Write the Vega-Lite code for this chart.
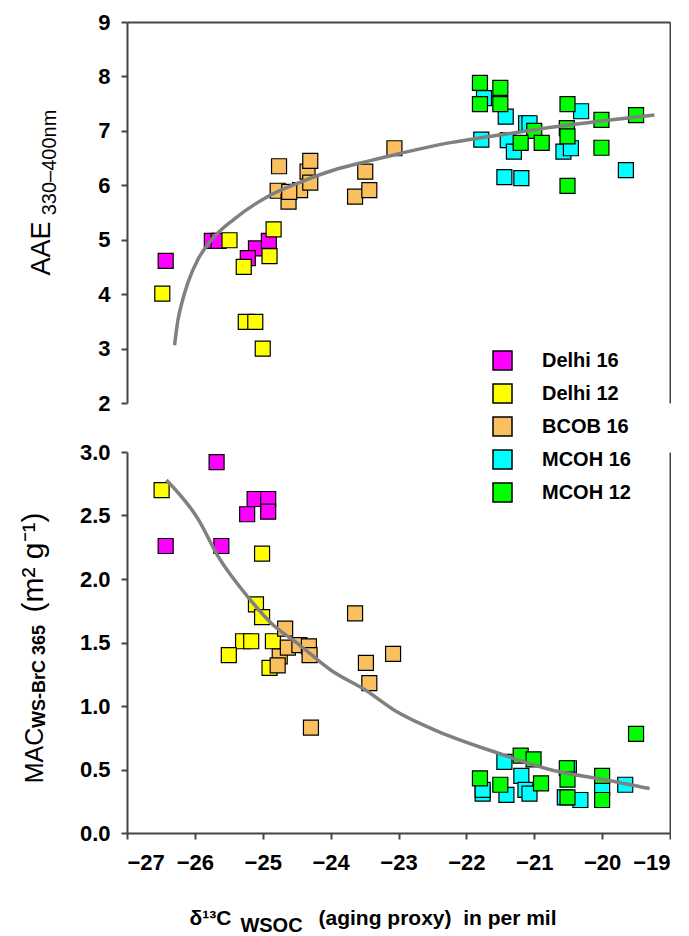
{
  "$schema": "https://vega.github.io/schema/vega-lite/v6.json",
  "background": "white",
  "padding": {"left": 17, "top": 11, "right": 0, "bottom": 0},
  "bounds": "flush",
  "spacing": 49,
  "config": {
    "font": "Liberation Sans",
    "view": {"stroke": null},
    "axis": {"grid": false, "domainColor": "#444444", "domainWidth": 2, "tickColor": "#444444", "tickWidth": 2, "tickSize": 6, "labelColor": "black", "labelFont": "Liberation Sans", "labelFontSize": 22, "labelFontWeight": "bold", "titleColor": "black", "titleFont": "Liberation Sans"}
  },
  "datasets": {
    "aae": [
      {"site": "Delhi 16", "x": -26.43, "y": 4.61},
      {"site": "Delhi 16", "x": -25.75, "y": 4.98},
      {"site": "Delhi 16", "x": -25.65, "y": 4.98},
      {"site": "Delhi 16", "x": -25.10, "y": 4.84},
      {"site": "Delhi 16", "x": -25.22, "y": 4.66},
      {"site": "Delhi 16", "x": -24.91, "y": 4.98},
      {"site": "Delhi 12", "x": -26.48, "y": 4.01},
      {"site": "Delhi 12", "x": -25.49, "y": 4.99},
      {"site": "Delhi 12", "x": -25.28, "y": 4.50},
      {"site": "Delhi 12", "x": -24.90, "y": 4.70},
      {"site": "Delhi 12", "x": -24.84, "y": 5.19},
      {"site": "Delhi 12", "x": -25.25, "y": 3.49},
      {"site": "Delhi 12", "x": -25.11, "y": 3.49},
      {"site": "Delhi 12", "x": -25.00, "y": 3.00},
      {"site": "BCOB 16", "x": -24.76, "y": 6.35},
      {"site": "BCOB 16", "x": -24.78, "y": 5.90},
      {"site": "BCOB 16", "x": -24.62, "y": 5.70},
      {"site": "BCOB 16", "x": -24.45, "y": 5.91},
      {"site": "BCOB 16", "x": -24.61, "y": 5.88},
      {"site": "BCOB 16", "x": -24.34, "y": 6.25},
      {"site": "BCOB 16", "x": -24.30, "y": 6.45},
      {"site": "BCOB 16", "x": -24.30, "y": 6.05},
      {"site": "BCOB 16", "x": -23.64, "y": 5.79},
      {"site": "BCOB 16", "x": -23.49, "y": 6.25},
      {"site": "BCOB 16", "x": -23.43, "y": 5.91},
      {"site": "BCOB 16", "x": -23.06, "y": 6.68},
      {"site": "MCOH 16", "x": -21.74, "y": 7.60},
      {"site": "MCOH 16", "x": -21.42, "y": 7.26},
      {"site": "MCOH 16", "x": -20.31, "y": 7.36},
      {"site": "MCOH 16", "x": -21.12, "y": 7.14},
      {"site": "MCOH 16", "x": -21.07, "y": 7.14},
      {"site": "MCOH 16", "x": -21.78, "y": 6.84},
      {"site": "MCOH 16", "x": -21.39, "y": 6.83},
      {"site": "MCOH 16", "x": -21.30, "y": 6.62},
      {"site": "MCOH 16", "x": -20.57, "y": 6.62},
      {"site": "MCOH 16", "x": -20.46, "y": 6.68},
      {"site": "MCOH 16", "x": -21.44, "y": 6.15},
      {"site": "MCOH 16", "x": -21.19, "y": 6.13},
      {"site": "MCOH 16", "x": -19.65, "y": 6.28},
      {"site": "MCOH 12", "x": -21.80, "y": 7.88},
      {"site": "MCOH 12", "x": -21.50, "y": 7.79},
      {"site": "MCOH 12", "x": -21.80, "y": 7.49},
      {"site": "MCOH 12", "x": -21.50, "y": 7.49},
      {"site": "MCOH 12", "x": -20.51, "y": 7.49},
      {"site": "MCOH 12", "x": -20.01, "y": 7.20},
      {"site": "MCOH 12", "x": -19.50, "y": 7.29},
      {"site": "MCOH 12", "x": -21.00, "y": 7.00},
      {"site": "MCOH 12", "x": -21.20, "y": 6.78},
      {"site": "MCOH 12", "x": -20.89, "y": 6.78},
      {"site": "MCOH 12", "x": -20.52, "y": 7.05},
      {"site": "MCOH 12", "x": -20.51, "y": 6.90},
      {"site": "MCOH 12", "x": -20.01, "y": 6.69},
      {"site": "MCOH 12", "x": -20.51, "y": 5.99}
    ],
    "aaeFit": [
      {"x": -26.30, "y": 3.06},
      {"x": -26.25, "y": 3.52},
      {"x": -26.20, "y": 3.80},
      {"x": -26.10, "y": 4.22},
      {"x": -25.95, "y": 4.65},
      {"x": -25.76, "y": 4.99},
      {"x": -25.42, "y": 5.38},
      {"x": -24.93, "y": 5.79},
      {"x": -24.44, "y": 6.06},
      {"x": -23.95, "y": 6.28},
      {"x": -23.46, "y": 6.44},
      {"x": -22.96, "y": 6.59},
      {"x": -22.30, "y": 6.77},
      {"x": -21.64, "y": 6.90},
      {"x": -20.66, "y": 7.08},
      {"x": -19.95, "y": 7.19},
      {"x": -19.23, "y": 7.29}
    ],
    "mac": [
      {"site": "Delhi 16", "x": -25.68, "y": 2.92},
      {"site": "Delhi 16", "x": -25.12, "y": 2.63},
      {"site": "Delhi 16", "x": -24.92, "y": 2.63},
      {"site": "Delhi 16", "x": -24.92, "y": 2.53},
      {"site": "Delhi 16", "x": -25.23, "y": 2.51},
      {"site": "Delhi 16", "x": -26.43, "y": 2.26},
      {"site": "Delhi 16", "x": -25.61, "y": 2.26},
      {"site": "Delhi 12", "x": -26.49, "y": 2.70},
      {"site": "Delhi 12", "x": -25.01, "y": 2.20},
      {"site": "Delhi 12", "x": -25.10, "y": 1.80},
      {"site": "Delhi 12", "x": -25.01, "y": 1.70},
      {"site": "Delhi 12", "x": -25.29, "y": 1.51},
      {"site": "Delhi 12", "x": -25.17, "y": 1.51},
      {"site": "Delhi 12", "x": -25.50, "y": 1.40},
      {"site": "Delhi 12", "x": -24.85, "y": 1.51},
      {"site": "Delhi 12", "x": -24.90, "y": 1.30},
      {"site": "BCOB 16", "x": -24.67, "y": 1.61},
      {"site": "BCOB 16", "x": -24.75, "y": 1.39},
      {"site": "BCOB 16", "x": -24.78, "y": 1.32},
      {"site": "BCOB 16", "x": -24.63, "y": 1.46},
      {"site": "BCOB 16", "x": -24.46, "y": 1.48},
      {"site": "BCOB 16", "x": -24.32, "y": 1.47},
      {"site": "BCOB 16", "x": -24.31, "y": 1.40},
      {"site": "BCOB 16", "x": -24.29, "y": 0.83},
      {"site": "BCOB 16", "x": -23.64, "y": 1.73},
      {"site": "BCOB 16", "x": -23.48, "y": 1.34},
      {"site": "BCOB 16", "x": -23.43, "y": 1.18},
      {"site": "BCOB 16", "x": -23.08, "y": 1.41},
      {"site": "MCOH 16", "x": -21.76, "y": 0.31},
      {"site": "MCOH 16", "x": -21.76, "y": 0.34},
      {"site": "MCOH 16", "x": -21.41, "y": 0.30},
      {"site": "MCOH 16", "x": -21.44, "y": 0.56},
      {"site": "MCOH 16", "x": -21.19, "y": 0.45},
      {"site": "MCOH 16", "x": -21.13, "y": 0.34},
      {"site": "MCOH 16", "x": -21.07, "y": 0.31},
      {"site": "MCOH 16", "x": -20.49, "y": 0.51},
      {"site": "MCOH 16", "x": -20.55, "y": 0.28},
      {"site": "MCOH 16", "x": -20.32, "y": 0.26},
      {"site": "MCOH 16", "x": -20.00, "y": 0.36},
      {"site": "MCOH 16", "x": -19.66, "y": 0.38},
      {"site": "MCOH 12", "x": -19.50, "y": 0.78},
      {"site": "MCOH 12", "x": -21.80, "y": 0.43},
      {"site": "MCOH 12", "x": -21.50, "y": 0.38},
      {"site": "MCOH 12", "x": -21.20, "y": 0.61},
      {"site": "MCOH 12", "x": -21.01, "y": 0.58},
      {"site": "MCOH 12", "x": -20.90, "y": 0.39},
      {"site": "MCOH 12", "x": -20.52, "y": 0.51},
      {"site": "MCOH 12", "x": -20.51, "y": 0.42},
      {"site": "MCOH 12", "x": -20.51, "y": 0.28},
      {"site": "MCOH 12", "x": -20.00, "y": 0.45},
      {"site": "MCOH 12", "x": -20.00, "y": 0.26}
    ],
    "macFit": [
      {"x": -26.42, "y": 2.78},
      {"x": -25.95, "y": 2.47},
      {"x": -25.66, "y": 2.18},
      {"x": -25.22, "y": 1.86},
      {"x": -24.87, "y": 1.65},
      {"x": -24.48, "y": 1.49},
      {"x": -23.99, "y": 1.28},
      {"x": -23.50, "y": 1.13},
      {"x": -23.01, "y": 0.95},
      {"x": -22.42, "y": 0.80},
      {"x": -21.54, "y": 0.63},
      {"x": -20.70, "y": 0.49},
      {"x": -19.96, "y": 0.42},
      {"x": -19.30, "y": 0.35}
    ]
  },
  "resolve": {"scale": {"color": "independent"}, "legend": {"color": "independent"}},
  "vconcat": [
    {
      "width": 543,
      "height": 381,
      "resolve": {"axis": {"x": "independent", "y": "independent"}},
      "layer": [
        {
          "data": {"name": "aae"},
          "mark": {"type": "point", "shape": "square", "filled": true, "size": 225, "stroke": "black", "strokeWidth": 1.2, "opacity": 1},
          "encoding": {
            "x": {"field": "x", "type": "quantitative", "scale": {"domain": [-27, -19], "nice": false, "zero": false},
              "axis": {"orient": "bottom", "domain": false, "ticks": false, "labels": false, "title": "WSOC", "titleFontSize": 20, "titleFontWeight": "bold", "titleX": 144, "titleY": 528, "titleBaseline": "alphabetic", "titleAlign": "center"}},
            "y": {"field": "y", "type": "quantitative", "scale": {"domain": [2, 9], "nice": false, "zero": false},
              "axis": {"orient": "left", "values": [2, 3, 4, 5, 6, 7, 8, 9], "format": "d", "labelPadding": 11, "title": "AAE", "titleFontSize": 27, "titleFontWeight": "normal", "titleAngle": -90, "titleX": -78, "titleY": 226, "titleBaseline": "alphabetic", "titleAlign": "center"}},
            "color": {"field": "site", "type": "nominal",
              "scale": {"domain": ["Delhi 16", "Delhi 12", "BCOB 16", "MCOH 16", "MCOH 12"], "range": ["#FF00FF", "#FFFF00", "#FAC060", "#00FFFF", "#00FF00"]},
              "legend": {"orient": "none", "legendX": 365, "legendY": 328, "title": null, "padding": 0, "symbolType": "square", "symbolSize": 361, "symbolStrokeColor": "black", "symbolStrokeWidth": 1.5, "symbolOpacity": 1, "labelFontSize": 20, "labelFontWeight": "bold", "labelColor": "black", "labelOffset": 29, "rowPadding": 8}}
          }
        },
        {
          "data": {"name": "aaeFit"},
          "mark": {"type": "line", "color": "#808080", "strokeWidth": 3.5, "interpolate": "monotone"},
          "encoding": {
            "x": {"field": "x", "type": "quantitative", "axis": {"orient": "top", "ticks": false, "labels": false, "title": "330–400nm", "titleFontSize": 20, "titleFontWeight": "normal", "titleAngle": -90, "titleX": -72, "titleY": 140, "titleBaseline": "alphabetic", "titleAlign": "center"}},
            "y": {"field": "y", "type": "quantitative", "axis": {"orient": "right", "ticks": false, "labels": false, "title": "δ¹³C", "titleFontSize": 21, "titleFontWeight": "bold", "titleAngle": 0, "titleX": -439, "titleY": 902, "titleBaseline": "alphabetic", "titleAlign": "right"}}
          }
        }
      ]
    },
    {
      "width": 543,
      "height": 381,
      "resolve": {"axis": {"x": "independent", "y": "independent"}},
      "layer": [
        {
          "data": {"name": "mac"},
          "mark": {"type": "point", "shape": "square", "filled": true, "size": 225, "stroke": "black", "strokeWidth": 1.2, "opacity": 1},
          "encoding": {
            "x": {"field": "x", "type": "quantitative", "scale": {"domain": [-27, -19], "nice": false, "zero": false},
              "axis": {"orient": "bottom", "values": [-27, -26, -25, -24, -23, -22, -21, -20, -19], "format": "d", "labelPadding": 13, "title": "(aging proxy)\u00a0\u00a0in per mil", "titleFontSize": 21, "titleFontWeight": "bold", "titleX": 191, "titleY": 91, "titleAlign": "left", "titleBaseline": "alphabetic"}},
            "y": {"field": "y", "type": "quantitative", "scale": {"domain": [0, 3], "nice": false, "zero": false},
              "axis": {"orient": "left", "values": [0, 0.5, 1, 1.5, 2, 2.5, 3], "format": ".1f", "labelPadding": 11, "title": "MAC", "titleFontSize": 25, "titleFontWeight": "normal", "titleAngle": -90, "titleX": -85, "titleY": 303, "titleBaseline": "alphabetic", "titleAlign": "center"}},
            "color": {"field": "site", "type": "nominal",
              "scale": {"domain": ["Delhi 16", "Delhi 12", "BCOB 16", "MCOH 16", "MCOH 12"], "range": ["#FF00FF", "#FFFF00", "#FAC060", "#00FFFF", "#00FF00"]},
              "legend": null}
          }
        },
        {
          "data": {"name": "macFit"},
          "mark": {"type": "line", "color": "#808080", "strokeWidth": 3.5, "interpolate": "monotone"},
          "encoding": {
            "x": {"field": "x", "type": "quantitative", "axis": {"orient": "top", "domain": false, "ticks": false, "labels": false, "title": "(m²\u00a0g⁻¹)", "titleFontSize": 30, "titleFontWeight": "normal", "titleAngle": -90, "titleX": -85, "titleY": 110, "titleBaseline": "alphabetic", "titleAlign": "center"}},
            "y": {"field": "y", "type": "quantitative", "axis": {"orient": "right", "ticks": false, "labels": false, "title": "WS-BrC 365", "titleFontSize": 18, "titleFontWeight": "bold", "titleAngle": -90, "titleX": -626, "titleY": 224, "titleBaseline": "alphabetic", "titleAlign": "center"}}
          }
        }
      ]
    }
  ]
}
